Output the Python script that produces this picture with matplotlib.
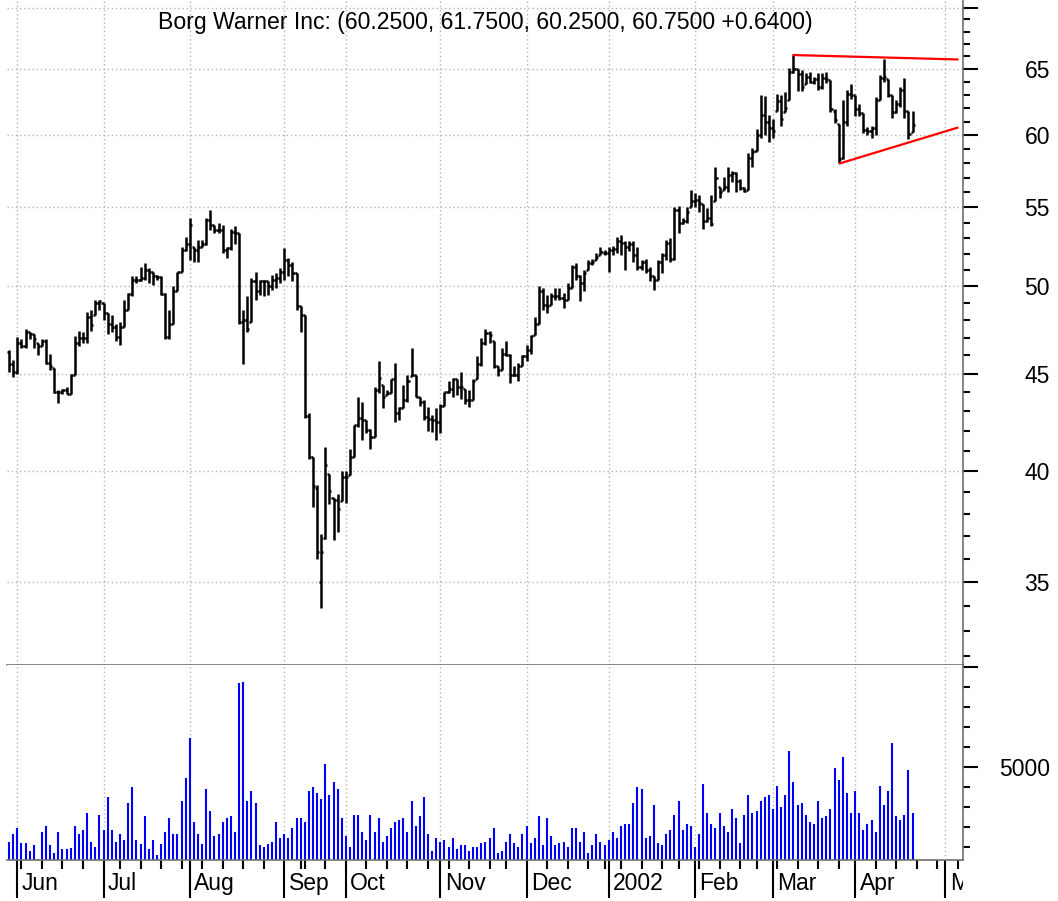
import numpy as np
import pandas as pd
import matplotlib
matplotlib.use("Agg")
import matplotlib.pyplot as plt
from matplotlib.collections import LineCollection
from matplotlib.ticker import FixedLocator, FixedFormatter, NullFormatter
from matplotlib.transforms import Bbox, TransformedBbox

plt.rcParams['font.family'] = ['Liberation Sans', 'DejaVu Sans']

# NYSE trading calendar (incl. the 9/11 shutdown)
holidays = ['2001-07-04', '2001-09-03', '2001-09-11', '2001-09-12', '2001-09-13',
            '2001-09-14', '2001-11-22', '2001-12-25', '2002-01-01', '2002-01-21',
            '2002-02-18', '2002-03-29']
days = pd.bdate_range('2001-05-30', '2002-05-10')
days = days[~days.isin(pd.to_datetime(holidays))]

# daily bars, 2001-05-30 .. 2002-04-19
opens = [46.2, 45.5, 45.1, 46.7, 46.5, 47.3, 47.2, 46.7, 46.5, 46.8,
         45.6, 45.3, 44.0, 44.0, 44.1, 43.9, 44.95, 46.7, 47.0, 47.0,
         48.2, 48.3, 49.0, 49.0, 48.4, 47.8, 47.6, 47.05, 47.6, 48.6,
         49.55, 50.4, 50.4, 50.5, 51.0, 50.85, 50.65, 50.55, 49.55, 47.05,
         47.8, 49.7, 50.85, 52.25, 52.65, 52.45, 52.25, 52.45, 52.65, 54.2,
         53.85, 53.55, 53.55, 52.25, 52.35, 53.4, 53.3, 47.9, 48.0, 47.9,
         50.3, 49.7, 50.3, 50.3, 50.0, 50.4, 50.5, 50.9, 51.6, 51.3,
         50.8, 48.8, 48.3, 42.75, 40.7, 39.2, 35.0, 36.9, 39.85, 38.75,
         38.65, 38.6, 39.7, 39.8, 40.7, 42.3, 42.65, 42.55, 42.05, 41.7,
         44.1, 44.4, 43.85, 43.95, 44.7, 42.9, 43.15, 43.6, 44.85, 44.95,
         43.75, 43.5, 42.7, 42.6, 42.55, 42.45, 43.3, 44.0, 44.2, 44.7,
         44.3, 44.2, 43.6, 43.6, 44.7, 45.5, 46.7, 47.25, 46.8, 45.4,
         45.2, 46.1, 46.0, 44.95, 44.95, 45.4, 45.95, 46.3, 47.15, 47.8,
         49.7, 48.9, 48.9, 49.4, 49.4, 49.3, 49.2, 49.9, 51.2, 50.6,
         50.2, 51.0, 51.4, 51.6, 51.9, 52.05, 52.05, 52.25, 52.3, 52.8,
         52.7, 52.4, 52.6, 51.9, 51.2, 51.5, 51.0, 50.6, 50.4, 51.5,
         51.9, 52.7, 51.7, 54.8, 54.0, 54.1, 55.05, 55.4, 55.5, 55.2,
         54.1, 54.3, 55.4, 56.4, 56.15, 56.4, 57.2, 57.3, 56.8, 56.3,
         56.15, 58.4, 58.85, 60.0, 61.5, 61.0, 60.5, 61.8, 62.5, 61.7,
         62.6, 64.8, 65.0, 64.6, 63.8, 64.4, 64.0, 64.2, 63.6, 64.3,
         64.15, 61.8, 60.8, 58.4, 61.0, 63.1, 63.0, 61.9, 61.6, 60.4,
         60.3, 60.5, 62.6, 64.3, 64.2, 63.0, 61.7, 62.3, 63.4, 61.8,
         60.25]
highs = [46.3, 45.75, 47.05, 46.9, 47.5, 47.3, 47.2, 46.7, 46.9, 46.9,
         46.1, 45.3, 44.1, 44.2, 44.3, 45.0, 47.1, 47.4, 47.3, 48.5,
         48.6, 49.2, 49.2, 49.0, 48.4, 48.3, 47.8, 47.9, 49.2, 49.6,
         50.6, 50.6, 51.2, 51.4, 51.1, 50.9, 50.7, 50.6, 49.6, 48.6,
         50.0, 50.9, 52.45, 53.1, 54.3, 52.45, 52.9, 52.9, 54.3, 54.85,
         53.85, 53.95, 53.85, 52.45, 53.6, 53.75, 53.3, 48.6, 49.4, 50.5,
         50.9, 50.4, 50.4, 50.3, 50.7, 50.8, 51.1, 52.35, 51.75, 51.5,
         50.8, 48.8, 48.3, 42.9, 40.7, 39.35, 37.1, 41.2, 39.85, 38.75,
         38.9, 40.0, 40.0, 41.1, 42.3, 43.75, 43.5, 42.55, 42.1, 44.3,
         45.7, 44.4, 44.1, 44.7, 45.6, 43.25, 44.4, 44.95, 46.4, 44.95,
         43.75, 43.6, 43.25, 42.8, 43.15, 43.4, 44.0, 44.6, 44.75, 44.7,
         45.1, 44.2, 44.1, 44.7, 45.95, 47.0, 47.5, 47.4, 46.8, 45.4,
         46.4, 46.8, 46.1, 45.4, 45.6, 46.0, 46.6, 47.15, 48.2, 50.0,
         49.9, 49.5, 49.6, 49.9, 49.9, 49.6, 50.2, 51.3, 51.4, 50.7,
         51.0, 51.6, 51.7, 52.05, 52.4, 52.25, 52.4, 52.5, 53.1, 53.2,
         52.8, 52.8, 52.8, 52.4, 51.6, 51.7, 51.2, 50.6, 51.6, 52.05,
         52.9, 53.0, 55.05, 55.1, 54.3, 55.05, 56.15, 55.95, 55.8, 55.2,
         54.95, 55.8, 57.75, 56.4, 57.05, 57.75, 57.5, 57.4, 56.95, 56.4,
         58.7, 59.1, 60.45, 63.0, 62.9, 61.45, 61.2, 63.1, 63.0, 63.25,
         65.1, 66.1, 65.0, 64.9, 64.7, 64.8, 64.4, 64.7, 64.7, 64.8,
         64.15, 61.9, 60.8, 62.6, 63.4, 63.8, 63.0, 62.3, 61.6, 60.6,
         60.7, 62.85, 64.5, 65.8, 64.2, 63.0, 62.6, 63.6, 64.3, 61.8,
         61.75]
lows = [45.1, 44.8, 45.0, 46.4, 46.4, 46.9, 46.4, 46.0, 46.5, 45.5,
        45.2, 43.95, 43.45, 43.9, 43.9, 43.9, 44.95, 46.5, 46.7, 46.7,
        47.4, 48.3, 48.6, 48.0, 47.2, 47.3, 46.8, 46.6, 47.6, 48.6,
        49.4, 50.2, 50.3, 50.4, 50.2, 50.1, 50.4, 49.5, 46.95, 46.95,
        47.8, 49.7, 50.85, 52.15, 51.6, 51.5, 51.5, 52.45, 52.55, 53.5,
        53.3, 53.3, 52.05, 51.75, 52.25, 52.65, 47.8, 45.55, 47.3, 47.9,
        49.2, 49.5, 49.4, 49.5, 49.8, 49.9, 50.2, 50.4, 50.6, 50.3,
        48.6, 47.3, 42.65, 40.6, 38.3, 36.0, 33.9, 36.85, 38.45, 36.8,
        37.15, 38.6, 38.5, 39.8, 40.7, 42.2, 41.55, 41.9, 41.1, 41.7,
        43.95, 43.15, 43.85, 43.95, 42.45, 42.55, 43.15, 43.5, 44.85, 43.75,
        43.3, 42.55, 42.0, 41.95, 41.55, 41.9, 43.3, 43.95, 43.75, 43.85,
        43.65, 43.4, 43.25, 43.6, 44.7, 45.4, 46.6, 46.7, 45.3, 44.85,
        45.2, 45.95, 44.5, 44.85, 44.6, 45.4, 45.7, 46.1, 47.15, 47.8,
        48.6, 48.4, 48.9, 49.2, 49.2, 48.7, 49.2, 49.9, 50.4, 49.1,
        49.7, 51.0, 51.3, 51.6, 51.9, 51.9, 50.9, 51.9, 52.05, 51.9,
        51.0, 52.2, 51.5, 51.0, 51.0, 50.8, 50.3, 49.8, 50.4, 50.8,
        51.6, 51.5, 51.6, 53.3, 53.9, 53.95, 55.05, 55.05, 54.7, 53.6,
        54.05, 53.75, 55.4, 55.6, 56.15, 56.05, 56.7, 56.05, 56.15, 56.05,
        56.15, 57.75, 58.85, 59.8, 60.05, 59.55, 59.8, 61.8, 60.7, 61.7,
        62.6, 64.7, 63.3, 63.3, 63.8, 63.9, 63.8, 63.4, 63.45, 63.9,
        61.7, 60.9, 58.05, 58.3, 60.7, 62.7, 61.4, 61.4, 60.2, 60.0,
        59.8, 60.0, 62.6, 64.0, 62.8, 61.3, 61.6, 62.1, 61.3, 59.7,
        60.25]
closes = [45.5, 45.1, 46.7, 46.5, 47.3, 47.2, 46.9, 46.5, 46.8, 45.6,
          45.4, 44.0, 44.0, 44.1, 43.9, 44.95, 46.7, 47.0, 47.0, 48.2,
          47.7, 49.0, 49.1, 48.4, 47.8, 47.6, 47.05, 47.6, 48.6, 49.55,
          50.4, 50.4, 50.5, 51.0, 50.85, 50.65, 50.55, 49.55, 47.05, 47.8,
          49.7, 50.85, 52.25, 52.65, 53.85, 52.25, 52.45, 52.65, 54.2, 53.85,
          53.55, 53.55, 52.25, 52.35, 53.4, 53.3, 47.9, 48.0, 47.5, 50.3,
          49.7, 50.3, 50.3, 50.0, 50.4, 50.5, 50.9, 51.6, 51.3, 50.8,
          48.8, 48.3, 42.75, 40.7, 39.3, 36.3, 36.3, 40.3, 39.05, 38.65,
          38.2, 39.7, 39.7, 40.7, 42.3, 42.65, 42.55, 42.05, 41.7, 44.1,
          44.75, 43.75, 43.95, 44.7, 42.9, 43.15, 43.6, 44.6, 44.95, 43.75,
          43.5, 42.7, 42.6, 42.55, 42.45, 43.3, 44.0, 44.2, 44.7, 44.3,
          44.3, 43.6, 43.6, 44.6, 45.5, 46.7, 47.25, 47.15, 45.4, 45.2,
          46.1, 46.0, 44.95, 44.95, 45.4, 45.95, 46.3, 47.1, 47.8, 49.7,
          48.9, 48.8, 49.4, 49.4, 49.3, 49.2, 49.9, 51.2, 50.6, 50.2,
          50.8, 51.4, 51.5, 51.8, 52.1, 52.05, 52.25, 52.3, 52.8, 52.7,
          52.4, 52.6, 51.9, 51.2, 51.5, 51.0, 50.6, 50.4, 51.5, 51.9,
          52.7, 51.7, 54.8, 54.0, 54.1, 54.7, 55.4, 55.5, 55.3, 54.1,
          54.3, 53.9, 57.0, 56.0, 56.4, 57.2, 57.3, 56.8, 56.3, 56.1,
          58.4, 58.8, 60.0, 61.5, 61.0, 60.5, 60.3, 62.5, 61.2, 62.0,
          64.8, 65.0, 64.6, 63.6, 64.4, 64.0, 64.2, 63.6, 64.3, 64.2,
          61.9, 61.1, 58.3, 61.0, 63.1, 63.0, 61.9, 61.6, 60.4, 60.3,
          60.5, 62.6, 64.3, 64.4, 63.0, 61.7, 62.3, 63.4, 61.8, 60.11,
          60.75]
volume = [1250, 1633, 1917, 1167, 1167, 767, 1067, 400, 1733, 2033,
          1067, 683, 1733, 867, 867, 950, 2033, 1633, 1833, 2700,
          1250, 967, 2600, 1833, 3483, 1833, 1250, 1633, 1350, 3183,
          3968, 1350, 1150, 2517, 867, 1350, 583, 1150, 1733, 2417,
          1633, 1633, 3283, 4450, 6450, 2217, 1633, 1150, 3867, 2800,
          1550, 1633, 2217, 2417, 2517, 1733, 9168, 9252, 3283, 3767,
          3183, 1067, 967, 1150, 1250, 2217, 1450, 1633, 1450, 1933,
          2417, 2417, 2217, 3767, 3968, 3667, 3383, 5118, 3583, 4250,
          3867, 2417, 1533, 967, 2600, 2600, 1733, 1350, 2600, 1733,
          2417, 1250, 1550, 1933, 2217, 2317, 2417, 1733, 3283, 2033,
          2517, 3483, 1633, 767, 1450, 1250, 1350, 967, 1450, 867,
          1067, 1067, 767, 967, 967, 1167, 1250, 1450, 1933, 667,
          767, 1250, 1633, 1167, 967, 1633, 2033, 1167, 1450, 2517,
          1067, 2417, 1550, 1067, 1167, 1250, 967, 1933, 1933, 1250,
          1733, 667, 1067, 1633, 1250, 1067, 1350, 1733, 1450, 2033,
          2117, 2117, 3183, 3968, 3867, 1450, 1550, 3083, 1167, 1067,
          1633, 1833, 2600, 3283, 1833, 2117, 2033, 967, 1633, 4150,
          2700, 2117, 1933, 2700, 2033, 1733, 2900, 2417, 1167, 2600,
          3567, 2700, 2800, 3283, 3483, 3567, 2900, 4050, 2983, 3567,
          5784, 4250, 3083, 3183, 2600, 2217, 2117, 3283, 2417, 2517,
          2900, 4917, 4350, 5501, 3667, 2700, 3767, 2700, 1833, 2117,
          2317, 1733, 4050, 3083, 3767, 6168, 2517, 2317, 2600, 4834,
          2700]

# hand-drawn trend lines: (bar index, price)
upper_line = ([191, 230.9], [66.1, 65.75])
lower_line = ([202.3, 230.9], [58.0, 60.55])

price_ticks = [35, 40, 45, 50, 55, 60, 65, 70]
price_labels = ['35', '40', '45', '50', '55', '60', '65', '']
vol_ticks = [5000, 10000]
vol_labels = ['5000', '']

n = len(closes)
x = np.arange(n)
axis_days = days[:233]

month_idx = [i for i in range(1, len(axis_days)) if axis_days[i].month != axis_days[i - 1].month]
month_names = [axis_days[i].strftime('%Y') if axis_days[i].month == 1 else axis_days[i].strftime('%b')
               for i in month_idx]
wk = axis_days.to_series().dt.isocalendar().week.values
week_idx = [i for i in range(1, len(axis_days)) if wk[i] != wk[i - 1] and i not in month_idx]

W, H = 1058, 901
fig = plt.figure(figsize=(W / 100, H / 100), dpi=100)
left, right = 7, 962.7
ax = fig.add_axes([left / W, 1 - 665 / H, (right - left) / W, 665 / H])
axv = fig.add_axes([left / W, 1 - 860 / H, (right - left) / W, 195 / H])

grid_kw = dict(color='#b4b4b4', linestyle=(0, (1, 2)), linewidth=1)
spine_col = '#707070'

# price bars
segs = []
for i in range(n):
    segs.append([(i, lows[i]), (i, highs[i])])
    segs.append([(i - 0.5, opens[i]), (i, opens[i])])
    segs.append([(i, closes[i]), (i + 0.5, closes[i])])
ax.add_collection(LineCollection(segs, colors='black', linewidths=1.8, capstyle='butt'))
ax.plot(*upper_line, color='red', lw=1.6)
ax.plot(*lower_line, color='red', lw=1.6)

ax.set_yscale('log')
ax.set_ylim(31.66, 70.64)
ax.set_xlim(-0.51, 232.2)
ax.yaxis.set_major_locator(FixedLocator(price_ticks))
ax.yaxis.set_major_formatter(FixedFormatter(price_labels))
ax.yaxis.set_minor_locator(FixedLocator([v for v in range(32, 71) if v % 5]))
ax.yaxis.set_minor_formatter(NullFormatter())
ax.xaxis.set_major_locator(FixedLocator(month_idx))
ax.tick_params(axis='x', which='both', length=0, labelbottom=False)
ax.grid(True, which='major', **grid_kw)

# volume
axv.vlines(x, 0, volume, colors='#0000ff', linewidth=1.5)
axv.set_xlim(-0.51, 232.2)
axv.set_ylim(335, 10085)
axv.yaxis.set_major_locator(FixedLocator(vol_ticks))
axv.yaxis.set_major_formatter(FixedFormatter(vol_labels))
axv.yaxis.set_minor_locator(FixedLocator(range(1000, 10001, 1000)))
axv.yaxis.set_minor_formatter(NullFormatter())
axv.xaxis.set_major_locator(FixedLocator(month_idx))
axv.xaxis.set_minor_locator(FixedLocator(week_idx))
axv.xaxis.set_major_formatter(NullFormatter())
axv.tick_params(axis='x', which='major', direction='out', length=27, width=1.5, color='black')
axv.tick_params(axis='x', which='minor', direction='out', length=6.5, width=1.5, color='black')
axv.grid(True, which='major', axis='x', **grid_kw)

for a in (ax, axv):
    a.yaxis.tick_right()
    a.tick_params(axis='y', which='major', direction='out', length=10.8, width=1.5,
                  color='black', pad=52, labelsize=16.5)
    a.tick_params(axis='y', which='minor', direction='out', length=5, width=1.5, color='black')
    for lbl in a.get_yticklabels():
        lbl.set_horizontalalignment('right')
    for s in ('left', 'top'):
        a.spines[s].set_visible(False)
    for s in ('right', 'bottom'):
        a.spines[s].set_color(spine_col)
        a.spines[s].set_linewidth(1.2)

# month labels, clipped at the right edge like the original
clip = TransformedBbox(Bbox([[0, 0], [right / W, 1]]), fig.transFigure)
for i, name in zip(month_idx, month_names):
    t = axv.text(i + 1.1, -30 / 195, name, transform=axv.get_xaxis_transform(),
                 ha='left', va='baseline', fontsize=16.5)
    t.set_clip_box(clip)
    t.set_clip_on(True)

title = (f"Borg Warner Inc: ({opens[-1]:.4f}, {highs[-1]:.4f}, {lows[-1]:.4f}, "
         f"{closes[-1]:.4f} +{closes[-1] - closes[-2]:.4f})")
fig.text((left + right) / 2 / W, 1 - 22 / H, title, ha='center', va='center', fontsize=16.6)

fig.savefig('out.png', dpi=100)
